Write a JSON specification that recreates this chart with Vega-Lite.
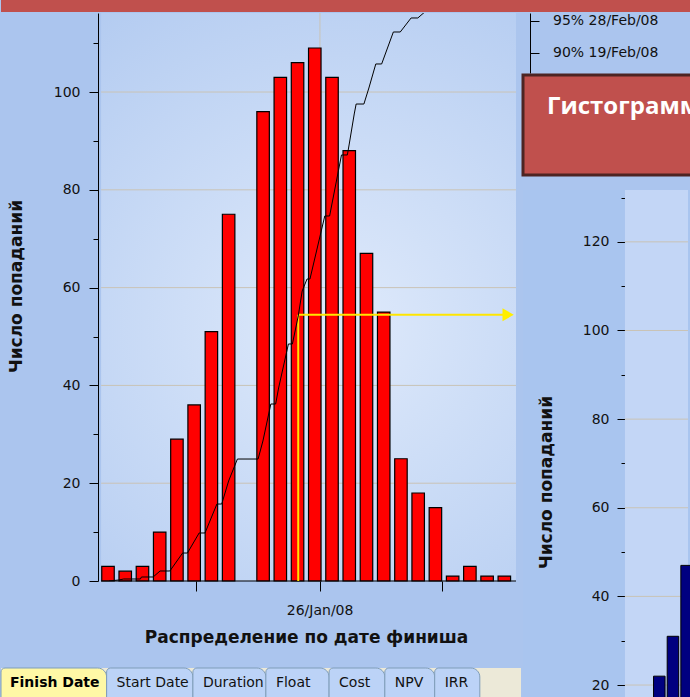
{
  "$schema": "https://vega.github.io/schema/vega-lite/v6.json",
  "padding": 0,
  "background": "#abc5ee",
  "spacing": 0,
  "config": {
    "view": {"stroke": null},
    "axis": {
      "labelFont": "DejaVu Sans", "labelFontSize": 14, "labelColor": "#111111",
      "titleFont": "DejaVu Sans", "titleFontSize": 17, "titleFontWeight": "bold", "titleColor": "#111111",
      "domainColor": "#000000", "tickColor": "#000000", "grid": false
    },
    "text": {"font": "DejaVu Sans"}
  },
  "vconcat": [
    {
      "width": 690, "height": 12,
      "view": {"fill": "#c0504d"},
      "data": {"values": [{}]},
      "mark": {"type": "text", "text": ""},
      "encoding": {}
    },
    {
      "spacing": 0,
      "hconcat": [
        {
          "spacing": 22,
          "vconcat": [
            {
              "width": 520, "height": 568,
              "layer": [
                {
                  "data": {"values": [{}]},
                  "mark": {"type": "rect", "fill": {"gradient": "radial", "x1": 0.55, "y1": 0.55, "r1": 0, "x2": 0.55, "y2": 0.55, "r2": 0.75,
                    "stops": [{"offset": 0, "color": "#dfeafb"}, {"offset": 1, "color": "#b0c9f0"}]}},
                  "encoding": {
                    "x": {"datum": 0.6016, "scale": {"domain": [-4.919, 24.677]}},
                    "x2": {"datum": 24.677}
                  }
                },
                {
                  "data": {"values": [{"g": 20}, {"g": 40}, {"g": 60}, {"g": 80}, {"g": 100}]},
                  "mark": {"type": "rule", "color": "#c9c3b6", "strokeWidth": 1},
                  "encoding": {
                    "x": {"datum": 0.6016, "scale": {"domain": [-4.919, 24.677]}},
                    "x2": {"datum": 24.677},
                    "y": {"field": "g", "type": "quantitative", "scale": {"domain": [0, 116.16]}, "axis": null}
                  }
                },
                {
                  "data": {"values": [{}]},
                  "mark": {"type": "rule", "color": "#c9c3b6", "strokeWidth": 1},
                  "encoding": {
                    "x": {"datum": 13.3, "scale": {"domain": [-4.919, 24.677]}}
                  }
                },
                {
                  "data": {"values": [
                    {"slot": 1, "count": 3}, {"slot": 2, "count": 2}, {"slot": 3, "count": 3}, {"slot": 4, "count": 10},
                    {"slot": 5, "count": 29}, {"slot": 6, "count": 36}, {"slot": 7, "count": 51}, {"slot": 8, "count": 75},
                    {"slot": 10, "count": 96}, {"slot": 11, "count": 103}, {"slot": 12, "count": 106}, {"slot": 13, "count": 109},
                    {"slot": 14, "count": 103}, {"slot": 15, "count": 88}, {"slot": 16, "count": 67}, {"slot": 17, "count": 55},
                    {"slot": 18, "count": 25}, {"slot": 19, "count": 18}, {"slot": 20, "count": 15}, {"slot": 21, "count": 1},
                    {"slot": 22, "count": 3}, {"slot": 23, "count": 1}, {"slot": 24, "count": 1}
                  ]},
                  "mark": {"type": "bar", "width": 12.5, "fill": "#ff0000", "stroke": "#000000", "strokeWidth": 1.2},
                  "encoding": {
                    "x": {"field": "slot", "type": "quantitative", "scale": {"domain": [-4.919, 24.677]},
                      "axis": {"orient": "bottom", "values": [6.122, 13.28, 20.41], "tickSize": 10, "labelPadding": 23,
                        "labelBaseline": "alphabetic", "labelOverlap": false, "labelFlush": false,
                        "labelExpr": "datum.value > 13 && datum.value < 14 ? '26/Jan/08' : ''",
                        "domain": false, "title": "Распределение по дате финиша",
                        "titleX": 305, "titleY": 61, "titleBaseline": "alphabetic"}},
                    "y": {"field": "count", "type": "quantitative", "scale": {"domain": [0, 116.16]},
                      "axis": {"orient": "left", "offset": -97, "values": [0, 20, 40, 60, 80, 100], "tickSize": 9, "labelPadding": 9,
                        "domain": true, "title": "Число попаданий", "titleX": -73, "titleY": 273, "titleBaseline": "bottom", "titleAngle": 270}}
                  }
                },
                {
                  "data": {"values": [{}]},
                  "mark": {"type": "rule", "opacity": 0},
                  "encoding": {
                    "y": {"datum": 0, "scale": {"domain": [0, 116.16]},
                      "axis": {"orient": "left", "offset": -97, "values": [10, 30, 50, 70, 90, 110], "tickSize": 5,
                        "labels": false, "domain": false, "title": null}}
                  }
                },
                {
                  "data": {"values": [{}]},
                  "mark": {"type": "rule", "color": "#000000", "strokeWidth": 1},
                  "encoding": {
                    "x": {"datum": 0.6016, "scale": {"domain": [-4.919, 24.677]}},
                    "x2": {"datum": 24.677},
                    "y": {"datum": 0, "scale": {"domain": [0, 116.16]}, "axis": null}
                  }
                },
                {
                  "data": {"values": [{"slot": 12.04, "pct": 45.2, "end": 24.22}]},
                  "layer": [
                    {
                      "mark": {"type": "rule", "color": "#ffe600", "strokeWidth": 2},
                      "encoding": {
                        "x": {"field": "slot", "type": "quantitative", "scale": {"domain": [-4.919, 24.677]}},
                        "y": {"field": "pct", "type": "quantitative", "scale": {"domain": [0, 96.435]}, "axis": null},
                        "y2": {"datum": 0}
                      }
                    },
                    {
                      "mark": {"type": "rule", "color": "#ffe600", "strokeWidth": 2},
                      "encoding": {
                        "x": {"field": "slot", "type": "quantitative", "scale": {"domain": [-4.919, 24.677]}},
                        "x2": {"field": "end"},
                        "y": {"field": "pct", "type": "quantitative", "scale": {"domain": [0, 96.435]}, "axis": null}
                      }
                    },
                    {
                      "mark": {"type": "point", "shape": "triangle-right", "size": 170, "filled": true, "color": "#ffee00", "opacity": 1},
                      "encoding": {
                        "x": {"field": "end", "type": "quantitative", "scale": {"domain": [-4.919, 24.677]}},
                        "y": {"field": "pct", "type": "quantitative", "scale": {"domain": [0, 96.435]}, "axis": null}
                      }
                    }
                  ],
                  "resolve": {"scale": {"y": "independent"}, "axis": {"y": "independent"}}
                },
                {
                  "data": {"values": [
                    {"slot": 1.06, "pct": 0}, {"slot": 1.63, "pct": 0.17}, {"slot": 1.91, "pct": 0.34}, {"slot": 2.88, "pct": 0.34},
                    {"slot": 2.94, "pct": 0.68}, {"slot": 3.62, "pct": 0.68}, {"slot": 4.02, "pct": 1.7}, {"slot": 4.59, "pct": 1.7},
                    {"slot": 5.33, "pct": 4.75}, {"slot": 5.61, "pct": 4.75}, {"slot": 6.29, "pct": 8.15}, {"slot": 6.63, "pct": 8.15},
                    {"slot": 7.32, "pct": 13.07}, {"slot": 7.6, "pct": 13.07}, {"slot": 8.0, "pct": 16.98}, {"slot": 8.51, "pct": 20.71},
                    {"slot": 9.71, "pct": 20.71}, {"slot": 9.99, "pct": 23.77}, {"slot": 10.45, "pct": 30.05}, {"slot": 10.73, "pct": 30.05},
                    {"slot": 10.9, "pct": 32.77}, {"slot": 11.47, "pct": 40.24}, {"slot": 11.7, "pct": 40.24}, {"slot": 12.04, "pct": 44.99},
                    {"slot": 12.27, "pct": 49.24}, {"slot": 12.55, "pct": 51.27}, {"slot": 12.72, "pct": 51.27}, {"slot": 13.58, "pct": 61.97},
                    {"slot": 13.86, "pct": 61.97}, {"slot": 14.55, "pct": 72.33}, {"slot": 14.89, "pct": 72.33}, {"slot": 15.0, "pct": 74.19},
                    {"slot": 15.29, "pct": 79.29}, {"slot": 15.4, "pct": 80.98}, {"slot": 15.85, "pct": 80.98}, {"slot": 16.14, "pct": 83.7},
                    {"slot": 16.54, "pct": 87.78}, {"slot": 16.88, "pct": 87.78}, {"slot": 17.56, "pct": 93.21}, {"slot": 17.96, "pct": 93.21},
                    {"slot": 18.59, "pct": 95.59}, {"slot": 18.98, "pct": 95.59}, {"slot": 19.38, "pct": 96.6}, {"slot": 20.41, "pct": 97.96},
                    {"slot": 21.83, "pct": 98.98}, {"slot": 24.68, "pct": 100}
                  ]},
                  "mark": {"type": "line", "color": "#000000", "strokeWidth": 1, "clip": true},
                  "encoding": {
                    "x": {"field": "slot", "type": "quantitative", "scale": {"domain": [-4.919, 24.677]}},
                    "y": {"field": "pct", "type": "quantitative", "scale": {"domain": [0, 96.435]}, "axis": null}
                  }
                }
              ],
              "resolve": {"scale": {"y": "independent"}, "axis": {"y": "independent"}}
            },
            {
              "width": 520, "height": 30,
              "view": {"fill": "#ece9d8"},
              "data": {"values": [
                {"tab": "Finish Date", "i": 0, "j": 1, "state": "active"},
                {"tab": "Start Date", "i": 1, "j": 2, "state": "inactive"},
                {"tab": "Duration", "i": 2, "j": 3, "state": "inactive"},
                {"tab": "Float", "i": 3, "j": 4, "state": "inactive"},
                {"tab": "Cost", "i": 4, "j": 5, "state": "inactive"},
                {"tab": "NPV", "i": 5, "j": 6, "state": "inactive"},
                {"tab": "IRR", "i": 6, "j": 7, "state": "inactive"}
              ]},
              "layer": [
                {
                  "mark": {"type": "rect", "stroke": "#7f9db9", "strokeWidth": 1, "cornerRadiusTopLeft": 4, "cornerRadiusTopRight": 9},
                  "encoding": {
                    "x": {"field": "i", "type": "quantitative", "scale": {"type": "symlog", "constant": 4, "domain": [0, 7.64]}, "axis": null},
                    "x2": {"field": "j"},
                    "fill": {"field": "state", "type": "nominal", "scale": {"domain": ["active", "inactive"], "range": ["#fff8a6", "#bcd3f7"]}, "legend": null}
                  }
                },
                {
                  "transform": [{"filter": "datum.state == 'active'"}],
                  "mark": {"type": "text", "align": "left", "baseline": "middle", "dx": 9, "fontSize": 14, "fontWeight": "bold", "color": "#000000"},
                  "encoding": {
                    "x": {"field": "i", "type": "quantitative"},
                    "text": {"field": "tab"}
                  }
                },
                {
                  "transform": [{"filter": "datum.state != 'active'"}],
                  "mark": {"type": "text", "align": "left", "baseline": "middle", "dx": 10, "fontSize": 14, "color": "#111111"},
                  "encoding": {
                    "x": {"field": "i", "type": "quantitative"},
                    "text": {"field": "tab"}
                  }
                }
              ]
            }
          ]
        },
        {
          "spacing": 0,
          "vconcat": [
            {
              "width": 7, "height": 60,
              "data": {"values": [{"pct": 95, "label": "95%  28/Feb/08"}, {"pct": 90, "label": "90%  19/Feb/08"}]},
              "mark": {"type": "text", "align": "left", "baseline": "middle", "dx": 26.5, "fontSize": 14, "color": "#111111"},
              "encoding": {
                "y": {"field": "pct", "type": "quantitative", "scale": {"domain": [86.875, 96.25]},
                  "axis": {"orient": "right", "values": [95, 90], "tickSize": 9, "labels": false, "title": null, "domain": true}},
                "text": {"field": "label"}
              }
            },
            {
              "spacing": 13,
              "vconcat": [
                {
                  "width": 170, "height": 100,
                  "view": {"fill": "#c0504d", "stroke": "#4d2422", "strokeWidth": 3},
                  "data": {"values": [{}]},
                  "mark": {"type": "text", "text": "Гистограмма", "font": "Open Sans", "fontWeight": "bold", "fontSize": 24,
                    "color": "#ffffff", "align": "left", "baseline": "alphabetic", "dx": -61, "dy": -11, "clip": true},
                  "encoding": {}
                },
                {
                  "width": 170, "height": 507,
                  "view": {"fill": "#a9c5ef"},
                  "layer": [
                    {
                      "data": {"values": [{}]},
                      "mark": {"type": "rect", "fill": "#c3d6f6"},
                      "encoding": {
                        "x": {"datum": -1.517, "scale": {"domain": [-8.621, 3.103]}, "axis": null},
                        "x2": {"datum": 3.103}
                      }
                    },
                    {
                      "data": {"values": [{"g": 20}, {"g": 40}, {"g": 60}, {"g": 80}, {"g": 100}, {"g": 120}]},
                      "mark": {"type": "rule", "color": "#c9c3b6", "strokeWidth": 1},
                      "encoding": {
                        "x": {"datum": -1.517, "scale": {"domain": [-8.621, 3.103]}, "axis": null},
                        "x2": {"datum": 3.103},
                        "y": {"field": "g", "type": "quantitative", "scale": {"domain": [17.3, 131.7]}, "axis": null}
                      }
                    },
                    {
                      "data": {"values": [{"slot": 1, "count": 22}, {"slot": 2, "count": 31}, {"slot": 3, "count": 47}]},
                      "mark": {"type": "bar", "width": 11.5, "fill": "#000080", "stroke": "#000000", "strokeWidth": 1, "clip": true},
                      "encoding": {
                        "x": {"field": "slot", "type": "quantitative", "scale": {"domain": [-8.621, 3.103]}, "axis": null},
                        "y": {"field": "count", "type": "quantitative", "scale": {"domain": [17.3, 131.7]},
                          "axis": {"orient": "left", "offset": -103, "values": [20, 40, 60, 80, 100, 120], "tickSize": 9, "labelPadding": 8,
                            "domain": true, "title": "Число попаданий", "titleX": -71, "titleY": 292, "titleBaseline": "bottom", "titleAngle": 270}}
                      }
                    },
                    {
                      "data": {"values": [{}]},
                      "mark": {"type": "rule", "opacity": 0},
                      "encoding": {
                        "y": {"datum": 30, "scale": {"domain": [17.3, 131.7]},
                          "axis": {"orient": "left", "offset": -103, "values": [30, 50, 70, 90, 110, 130], "tickSize": 5,
                            "labels": false, "domain": false, "title": null}}
                      }
                    }
                  ],
                  "resolve": {"scale": {"y": "independent"}, "axis": {"y": "independent"}}
                }
              ]
            }
          ]
        }
      ]
    }
  ]
}
